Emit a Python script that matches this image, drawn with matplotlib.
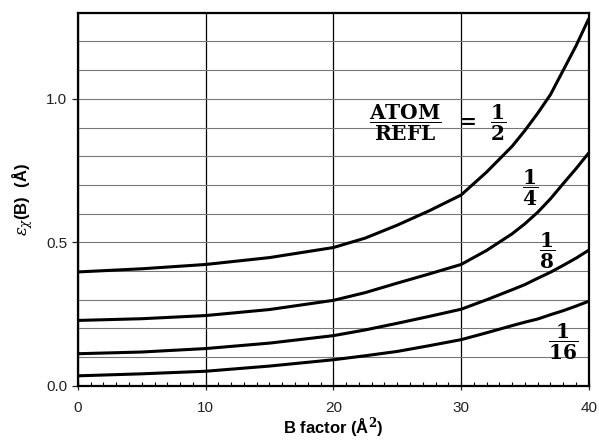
import matplotlib
matplotlib.use("Agg")
import matplotlib.pyplot as plt
from matplotlib.ticker import MultipleLocator

# B factor (A^2) values
b_factor = [0, 5, 10, 15, 20, 22.5, 25, 27.5, 30, 32, 34, 35, 36, 37, 38, 39, 40]

# error curves for ATOM/REFL = 1/2, 1/4, 1/8, 1/16
err_half = [0.397, 0.408, 0.423, 0.447, 0.482, 0.515, 0.56, 0.61, 0.665,
            0.745, 0.835, 0.89, 0.95, 1.015, 1.10, 1.185, 1.28]
err_quarter = [0.228, 0.234, 0.245, 0.266, 0.298, 0.325, 0.358, 0.39, 0.423,
               0.472, 0.53, 0.565, 0.605, 0.652, 0.705, 0.757, 0.812]
err_eighth = [0.112, 0.118, 0.130, 0.149, 0.175, 0.195, 0.218, 0.242, 0.267,
              0.30, 0.335, 0.353, 0.375, 0.396, 0.42, 0.445, 0.473]
err_sixteenth = [0.035, 0.042, 0.051, 0.069, 0.091, 0.105, 0.12, 0.14, 0.161,
                 0.185, 0.21, 0.222, 0.233, 0.248, 0.262, 0.278, 0.295]

x_ticks = [0, 10, 20, 30, 40]
y_ticks = [0.0, 0.5, 1.0]
y_ticklabels = ["0.0", "0.5", "1.0"]

plt.rcParams["font.family"] = ["Liberation Sans", "DejaVu Sans"]
plt.rcParams["mathtext.fontset"] = "dejavuserif"

fig = plt.figure(figsize=(5.99, 4.41), dpi=100)
ax = fig.add_axes([0.130, 0.125, 0.853, 0.846])

for ys in (err_half, err_quarter, err_eighth, err_sixteenth):
    ax.plot(b_factor, ys, color="black", lw=2.2, solid_capstyle="butt", zorder=3)

ax.set_xlim(0, 40)
ax.set_ylim(0, 1.3)
ax.set_xticks(x_ticks)
ax.set_xticklabels([str(v) for v in x_ticks])
ax.set_yticks(y_ticks)
ax.set_yticklabels(y_ticklabels)
ax.xaxis.set_minor_locator(MultipleLocator(1))
ax.yaxis.set_minor_locator(MultipleLocator(0.1))

ax.tick_params(axis="both", which="major", labelsize=11, colors="#222222",
               length=4, width=0.9)
ax.tick_params(axis="x", which="major", direction="inout", length=6, pad=8)
ax.tick_params(axis="x", which="minor", direction="in", length=3, width=0.8)
ax.tick_params(axis="y", which="minor", length=0)

ax.grid(True, axis="y", which="both", color="#777777", lw=0.8)
ax.grid(True, axis="x", which="major", color="black", lw=0.9)
for s in ax.spines.values():
    s.set_linewidth(1.6)
    s.set_color("black")

ax.set_xlabel("B factor (Å$^{\\mathbf{2}}$)", fontsize=12, fontweight="bold",
              labelpad=0)
ax.set_ylabel("$\\varepsilon_{\\chi}$(B)  (Å)", fontsize=12, fontweight="bold",
              labelpad=8)

# ATOM/REFL ratio labels
lab = dict(ha="center", va="center", fontsize=14.5, color="black", zorder=4)
ax.text(25.6, 0.915, r"$\dfrac{\mathbf{ATOM}}{\mathbf{REFL}}$", **lab)
ax.text(30.4, 0.925, r"$\mathbf{=}$", **lab)
ax.text(32.9, 0.915, r"$\dfrac{\mathbf{1}}{\mathbf{2}}$", **lab)
ax.text(35.4, 0.69, r"$\dfrac{\mathbf{1}}{\mathbf{4}}$", **lab)
ax.text(36.7, 0.47, r"$\dfrac{\mathbf{1}}{\mathbf{8}}$", **lab)
ax.text(37.95, 0.155, r"$\dfrac{\mathbf{1}}{\mathbf{16}}$", **lab)

fig.savefig("out.png", dpi=100)
